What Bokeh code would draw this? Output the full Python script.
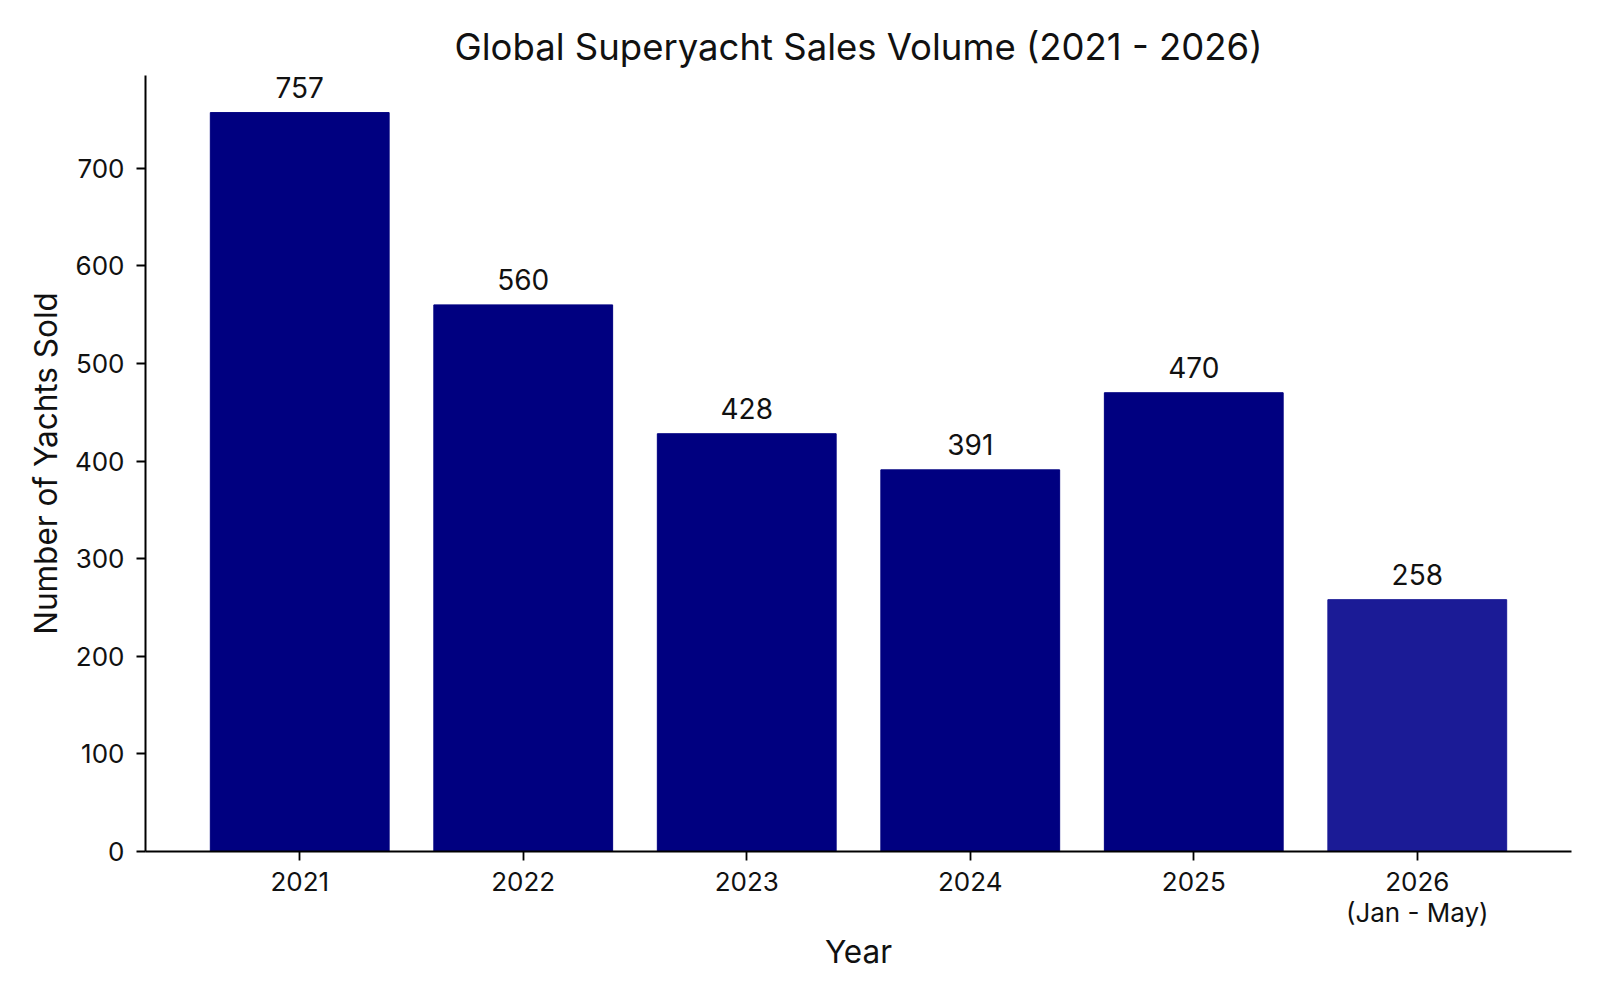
from bokeh.plotting import figure
from bokeh.models import ColumnDataSource, FixedTicker, Range1d, LabelSet, Title
from bokeh.core.properties import value
from bokeh.embed import file_html
from bokeh.resources import INLINE

years = ["2021", "2022", "2023", "2024", "2025", "2026\n(Jan - May)"]
sales = [757, 560, 428, 391, 470, 258]
colors = ["#000080", "#000080", "#000080", "#000080", "#000080", "#1b1b96"]
yticks = [0, 100, 200, 300, 400, 500, 600, 700]

FONT = "Inter"
xs = list(range(len(years)))
src = ColumnDataSource(dict(x=xs, top=sales, color=colors, label=[str(v) for v in sales]))

p = figure(width=1584, height=984, output_backend="svg", toolbar_location=None,
           x_range=Range1d(-0.69, 5.69), y_range=Range1d(0, 795),
           min_border_left=145, min_border_right=13, min_border_top=75, min_border_bottom=133)
p.title = Title(text="Global Superyacht Sales Volume (2021 - 2026)", align="center",
                text_font=FONT, text_font_size="36.5px", text_font_style="normal",
                text_color="#111111", offset=0, standoff=14)
p.vbar(x="x", top="top", width=0.8, color="color", source=src)

labels = LabelSet(x="x", y="top", text="label", source=src, text_align="center",
                  text_baseline="bottom", y_offset=15, text_font=value(FONT),
                  text_font_size="28px", text_color="#111111")
p.add_layout(labels)

p.xaxis.ticker = FixedTicker(ticks=xs)
p.xaxis.major_label_overrides = {i: years[i] for i in xs}
p.yaxis.ticker = FixedTicker(ticks=yticks)
p.xaxis.axis_label = "Year"
p.yaxis.axis_label = "Number of Yachts Sold"
for ax in (p.xaxis, p.yaxis):
    ax.axis_label_text_font = FONT
    ax.axis_label_text_font_size = "31.5px"
    ax.axis_label_text_font_style = "normal"
    ax.axis_label_text_color = "#111111"
    ax.major_label_text_font = FONT
    ax.major_label_text_font_size = "26px"
    ax.major_label_text_color = "#111111"
    ax.axis_line_width = 2
    ax.axis_line_color = "black"
    ax.major_tick_line_width = 1.8
    ax.major_tick_out = 9
    ax.major_tick_in = 0
    ax.minor_tick_line_color = None
p.xaxis.major_label_text_line_height = 1.0
p.xaxis.major_label_standoff = 5
p.yaxis.major_label_standoff = 12
p.xaxis.axis_label_standoff = 1
p.yaxis.axis_label_standoff = 7
p.xgrid.grid_line_color = None
p.ygrid.grid_line_color = None
p.outline_line_color = None

open("out.html", "w").write(file_html(p, INLINE))
